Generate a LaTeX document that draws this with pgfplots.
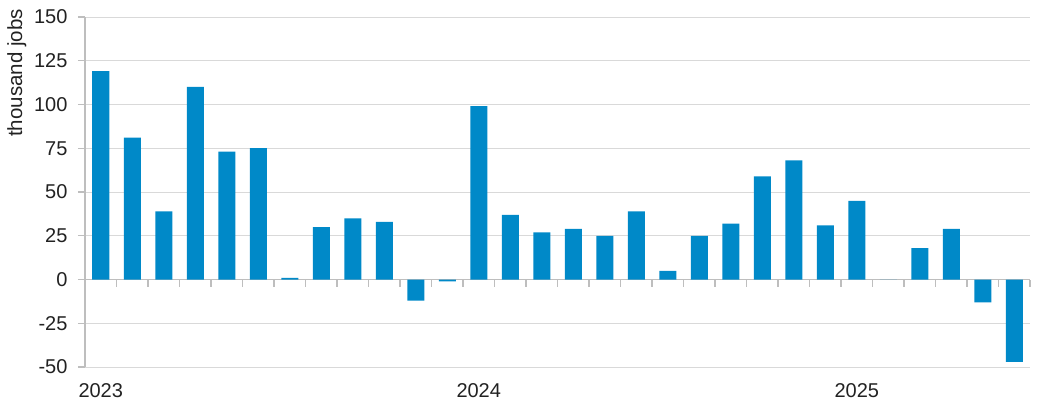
\documentclass[border=0pt]{standalone}
\usepackage{pgfplots}
\pgfplotsset{compat=1.18}
\usepackage{fontspec}
\setmainfont{Liberation Sans}
\definecolor{barblue}{RGB}{0,137,200}
\definecolor{gridgrey}{RGB}{217,217,217}
\definecolor{axisgrey}{RGB}{190,190,190}
\definecolor{txt}{RGB}{34,34,34}
\begin{document}
\begin{tikzpicture}
\useasboundingbox (-85pt,-51pt) rectangle (953pt,367pt);
\begin{axis}[
  at={(0,0)}, anchor=south west,
  scale only axis, width=945pt, height=350pt,
  xmin=-0.5, xmax=29.5, ymin=-50, ymax=150,
  axis x line=middle, axis y line=left,
  axis line style={-, draw=axisgrey, line width=1.2pt},
  hide obscured x ticks=false, hide obscured y ticks=false,
  ytick={-50,-25,...,150},
  xtick={0.5,1.5,...,29.5},
  xticklabels={},
  extra x ticks={0,12,24},
  extra x tick labels={2023,2024,2025},
  extra x tick style={major tick length=0pt, xticklabel style={yshift=-100pt}},
  tick align=outside,
  major tick length=7pt,
  tick style={draw=axisgrey, line width=1.2pt},
  ymajorgrids,
  grid style={draw=gridgrey, line width=0.8pt},
  /pgf/number format/assume math mode=true,
  ticklabel style={font=\fontsize{20}{24}\selectfont, text=txt},
  yticklabel style={xshift=-7pt},
  ybar, bar width=17pt,
]
\addplot[fill=barblue, draw=none] coordinates {
(0,119) (1,81) (2,39) (3,110) (4,73) (5,75) (6,1) (7,30) (8,35) (9,33)
(10,-12) (11,-1) (12,99) (13,37) (14,27) (15,29) (16,25) (17,39) (18,5) (19,25)
(20,32) (21,59) (22,68) (23,31) (24,45) (25,0) (26,18) (27,29) (28,-13) (29,-47)
};
\end{axis}
\node[rotate=90, anchor=north east, inner sep=0pt, font=\fontsize{20.5}{24}\selectfont, text=txt] at (-78pt,358pt) {thousand jobs};
\end{tikzpicture}
\end{document}
